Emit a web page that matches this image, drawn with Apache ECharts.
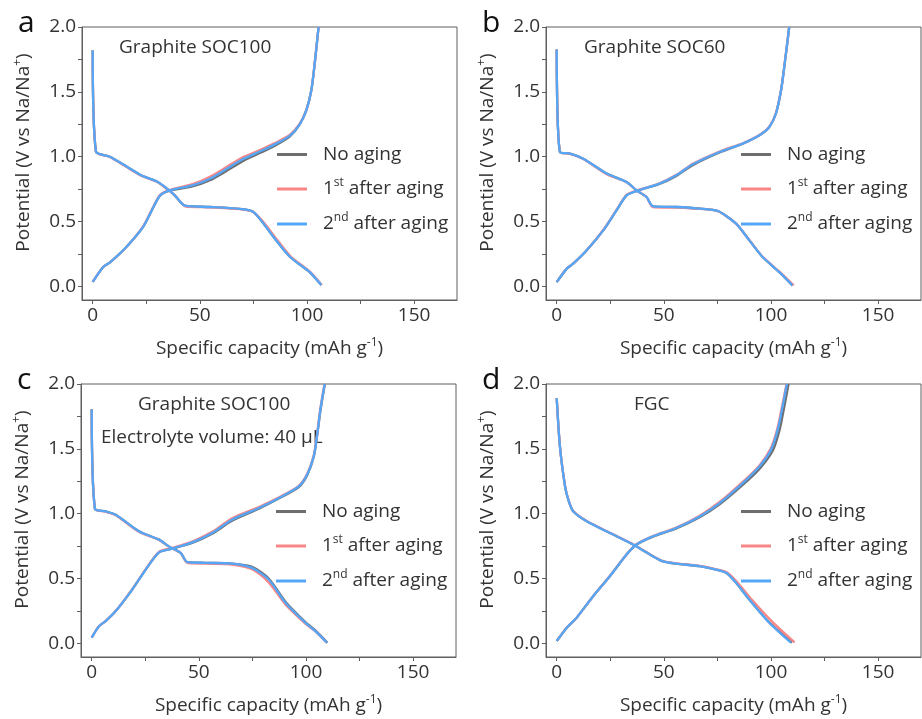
<!DOCTYPE html>
<html>
<head>
<meta charset="utf-8">
<script src="https://cdn.jsdelivr.net/npm/echarts@6/dist/echarts.min.js"></script>
<style>
  html, body { margin: 0; padding: 0; background: #fff; }
  #chart { width: 922px; height: 719px; }
</style>
</head>
<body>
<div id="chart"></div>
<script>
// legend names, in drawing order (gray under, blue on top)
const seriesNames = ['No aging', '1st after aging', '2nd after aging']
const seriesColors = ['#6e6e6e', '#f88686', '#55a6f6']

const panelLetters = ['a', 'b', 'c', 'd']
const panelNotes = [
  ['Graphite SOC100'],
  ['Graphite SOC60'],
  ['Graphite SOC100', 'Electrolyte volume: 40 µL'],
  ['FGC'],
]

const xTicks = [0, 25, 50, 75, 100, 125, 150]
const xLabels = [0, 50, 100, 150]
const yTicks = [0, 0.25, 0.5, 0.75, 1, 1.25, 1.5, 1.75, 2]
const yLabels = [0, 0.5, 1, 1.5, 2]

// ---- panel a ----
const a0Dis = [[0,1.82],[1.5,1.04],[8,1.0],[15.8,0.925],[22.8,0.855],[29.8,0.81],[34.5,0.755],[38.4,0.70],[41.5,0.64],[43.5,0.62],[54.7,0.612],[68.6,0.597],[74.8,0.576],[79,0.5],[84.2,0.385],[91.9,0.23],[98.1,0.15],[101.3,0.11],[106.7,0.01]]
const a1Dis = [[0,1.82],[1.5,1.04],[8,0.998],[15.8,0.92],[22.8,0.852],[29.8,0.808],[34.5,0.752],[38.4,0.70],[41.5,0.64],[43.5,0.615],[54.7,0.61],[68.6,0.596],[74.8,0.576],[79.5,0.5],[84.8,0.385],[92.4,0.23],[98.6,0.15],[101.6,0.11],[106.9,0.01]]
const a2Dis = [[0,1.82],[1.5,1.04],[8,1.0],[15.8,0.925],[22.8,0.855],[29.8,0.81],[34.5,0.755],[38.4,0.70],[41.5,0.64],[43.5,0.62],[54.7,0.612],[68.6,0.597],[74.8,0.576],[79,0.5],[84.2,0.385],[91.9,0.23],[98.1,0.15],[101.3,0.11],[106.7,0.01]]
const a0Chg = [[0,0.035],[4.9,0.15],[8.1,0.185],[15.8,0.305],[23.6,0.46],[28,0.6],[31.4,0.7],[36,0.738],[46.9,0.772],[54.7,0.818],[62.4,0.89],[70,0.965],[78,1.028],[85,1.085],[91.9,1.155],[96.6,1.25],[99.7,1.36],[102,1.51],[103.6,1.72],[105.4,2.0]]
const a1Chg = [[0,0.035],[4.9,0.15],[8.1,0.185],[15.8,0.305],[23.6,0.465],[28,0.605],[31.4,0.705],[36,0.745],[46.9,0.79],[54.7,0.845],[62.4,0.92],[70,0.995],[78,1.052],[85,1.105],[91.9,1.168],[96.6,1.255],[99.7,1.36],[102,1.51],[103.6,1.72],[105.4,2.0]]
const a2Chg = [[0,0.035],[4.9,0.15],[8.1,0.185],[15.8,0.305],[23.6,0.46],[28,0.6],[31.4,0.7],[36,0.74],[46.9,0.78],[54.7,0.83],[62.4,0.905],[70,0.98],[78,1.04],[85,1.095],[91.9,1.16],[96.6,1.25],[99.7,1.36],[102,1.51],[103.6,1.72],[105.4,2.0]]

// ---- panel b ----
const b0Dis = [[0,1.826],[1.5,1.036],[6.2,1.024],[12.4,0.985],[23.3,0.87],[32.6,0.805],[37.2,0.741],[41.9,0.689],[44.9,0.617],[55.8,0.612],[66.7,0.6],[75.2,0.581],[83.7,0.484],[89.9,0.355],[96.1,0.226],[103.9,0.11],[110,0.008]]
const b1Dis = [[0,1.826],[1.5,1.036],[6.2,1.022],[12.4,0.982],[23.3,0.865],[32.6,0.803],[37.2,0.741],[41.9,0.689],[44.9,0.612],[55.8,0.607],[66.7,0.597],[75.2,0.58],[83.7,0.484],[89.9,0.357],[96.1,0.228],[104.2,0.11],[110.6,0.008]]
const b2Dis = [[0,1.826],[1.5,1.036],[6.2,1.024],[12.4,0.985],[23.3,0.87],[32.6,0.805],[37.2,0.741],[41.9,0.689],[44.9,0.617],[55.8,0.612],[66.7,0.6],[75.2,0.581],[83.7,0.484],[89.9,0.355],[96.1,0.226],[103.9,0.11],[110,0.008]]
const b0Chg = [[0,0.033],[4.7,0.137],[7.7,0.175],[14,0.278],[21.7,0.432],[27.9,0.586],[32.6,0.702],[37.2,0.735],[48,0.79],[55.8,0.852],[63.5,0.935],[76,1.032],[86.8,1.1],[94.6,1.165],[99.2,1.229],[102.3,1.333],[104.7,1.512],[106.2,1.692],[108.5,2.0]]
const b1Chg = [[0,0.033],[4.7,0.137],[7.7,0.175],[14,0.278],[21.7,0.435],[27.9,0.59],[32.6,0.705],[37.2,0.738],[48,0.795],[55.8,0.86],[63.5,0.945],[76,1.04],[86.8,1.103],[94.6,1.167],[99.2,1.232],[102.3,1.336],[104.7,1.515],[106.2,1.695],[108.5,2.0]]
const b2Chg = [[0,0.033],[4.7,0.137],[7.7,0.175],[14,0.278],[21.7,0.432],[27.9,0.586],[32.6,0.702],[37.2,0.735],[48,0.792],[55.8,0.856],[63.5,0.941],[76,1.036],[86.8,1.101],[94.6,1.165],[99.2,1.229],[102.3,1.333],[104.7,1.512],[106.2,1.692],[108.5,2.0]]

// ---- panel c ----
const c0Dis = [[0,1.805],[1.5,1.038],[6.5,1.018],[11.2,0.992],[22,0.864],[31.4,0.8],[36,0.748],[41.5,0.698],[44.6,0.626],[53.1,0.621],[65.5,0.615],[74.8,0.59],[82.6,0.5],[90.4,0.322],[99.7,0.165],[104.4,0.1],[110,0.005]]
const c1Dis = [[0,1.805],[1.5,1.038],[6.5,1.015],[11.2,0.988],[22,0.86],[31.4,0.798],[36,0.746],[41.5,0.696],[44.6,0.62],[53.1,0.615],[65.5,0.608],[74.8,0.572],[82.6,0.47],[90.4,0.3],[99.7,0.152],[104.4,0.092],[109.6,0.005]]
const c2Dis = [[0,1.805],[1.5,1.038],[6.5,1.018],[11.2,0.992],[22,0.864],[31.4,0.8],[36,0.748],[41.5,0.698],[44.6,0.626],[53.1,0.621],[65.5,0.615],[74.8,0.582],[82.6,0.492],[90.4,0.313],[99.7,0.159],[104.4,0.095],[109.8,0.005]]
const c0Chg = [[0,0.044],[3.4,0.133],[6.5,0.172],[11.2,0.249],[18.9,0.415],[25.2,0.569],[31.4,0.702],[37.6,0.731],[46.9,0.775],[56.2,0.845],[65.5,0.945],[78,1.038],[88.8,1.13],[96.6,1.205],[100.5,1.295],[103.6,1.438],[105.1,1.59],[106.8,1.8],[108.8,2.0]]
const c1Chg = [[0,0.044],[3.4,0.133],[6.5,0.172],[11.2,0.249],[18.9,0.418],[25.2,0.573],[31.4,0.706],[37.6,0.736],[46.9,0.786],[56.2,0.86],[65.5,0.965],[78,1.052],[88.8,1.138],[96.6,1.215],[100.5,1.305],[103.6,1.448],[105.1,1.602],[106.6,1.8],[108.6,2.0]]
const c2Chg = [[0,0.044],[3.4,0.133],[6.5,0.172],[11.2,0.249],[18.9,0.415],[25.2,0.569],[31.4,0.702],[37.6,0.731],[46.9,0.779],[56.2,0.851],[65.5,0.954],[78,1.044],[88.8,1.133],[96.6,1.21],[100.5,1.3],[103.6,1.441],[105.1,1.595],[106.7,1.8],[108.7,2.0]]

// ---- panel d ----
const d0Dis = [[0,1.89],[1.5,1.518],[3.9,1.21],[5.4,1.108],[7.7,1.018],[14,0.941],[24.8,0.851],[35.6,0.762],[44.9,0.672],[49.6,0.633],[55.8,0.615],[66.7,0.595],[74.4,0.569],[79.1,0.544],[83.7,0.467],[89.9,0.338],[99.2,0.162],[109.8,0.005]]
const d1Dis = [[0,1.89],[1.5,1.52],[3.9,1.215],[5.4,1.112],[7.7,1.02],[14,0.943],[24.8,0.853],[35.6,0.764],[44.9,0.674],[49.6,0.635],[55.8,0.617],[66.7,0.597],[74.4,0.571],[79.5,0.546],[84.5,0.467],[91,0.338],[100.5,0.168],[111,0.008]]
const d2Dis = [[0,1.89],[1.5,1.518],[3.9,1.21],[5.4,1.108],[7.7,1.018],[14,0.941],[24.8,0.851],[35.6,0.762],[44.9,0.672],[49.6,0.633],[55.8,0.615],[66.7,0.595],[74.4,0.569],[79.1,0.544],[83.7,0.467],[89.9,0.338],[99.2,0.159],[109.3,0.005]]
const d0Chg = [[0,0.018],[4.7,0.121],[9.3,0.198],[17,0.364],[24.8,0.518],[32.6,0.685],[37.2,0.76],[44.9,0.822],[55.8,0.886],[66.7,0.972],[76,1.072],[86.8,1.222],[94.6,1.345],[100.8,1.485],[104,1.646],[106.2,1.825],[108.2,2.0]]
const d1Chg = [[0,0.018],[4.7,0.121],[9.3,0.198],[17,0.364],[24.8,0.52],[32.6,0.688],[37.2,0.765],[44.9,0.828],[55.8,0.893],[66.7,0.985],[76,1.09],[86.8,1.245],[94.6,1.372],[99.8,1.5],[102.9,1.652],[105.2,1.83],[107.2,2.0]]
const d2Chg = [[0,0.018],[4.7,0.121],[9.3,0.198],[17,0.364],[24.8,0.518],[32.6,0.685],[37.2,0.762],[44.9,0.825],[55.8,0.89],[66.7,0.979],[76,1.082],[86.8,1.236],[94.6,1.364],[100,1.492],[103.1,1.646],[105.4,1.825],[107.4,2.0]]

const panelCurves = [
  [[a0Dis, a0Chg], [a1Dis, a1Chg], [a2Dis, a2Chg]],
  [[b0Dis, b0Chg], [b1Dis, b1Chg], [b2Dis, b2Chg]],
  [[c0Dis, c0Chg], [c1Dis, c1Chg], [c2Dis, c2Chg]],
  [[d0Dis, d0Chg], [d1Dis, d1Chg], [d2Dis, d2Chg]],
]

const FONT = "'Open Sans', 'Noto Sans', sans-serif"
const TXT = '#333'
const AX = '#5f5f5f'

// panel boxes [left, top]
const boxes = [[82, 27], [546, 27], [81, 384], [546, 384]]
const BOX_W = 375
const BOX_H = 273

const supRich = {
  n: { fontFamily: FONT, fontSize: 19, color: TXT, lineHeight: 24 },
  s: { fontFamily: FONT, fontSize: 12, color: TXT, lineHeight: 24, verticalAlign: 'top', padding: [0, 0, 10, 0] },
}

const chart = echarts.init(document.getElementById('chart'), null, { renderer: 'canvas' })

const grid = []
const xAxis = []
const yAxis = []
const series = []
const legend = []
const graphic = []

boxes.forEach(([left, top], i) => {
  grid.push({
    left, top, width: BOX_W, height: BOX_H,
    show: true, borderColor: AX, borderWidth: 1, backgroundColor: 'transparent',
  })
  xAxis.push({
    gridIndex: i, type: 'value', min: -5, max: 170,
    name: '{n|Specific capacity (mAh g}{s|-1}{n|)}',
    nameLocation: 'middle', nameGap: 37,
    nameTextStyle: { rich: supRich },
    axisLine: { show: true, onZero: false, lineStyle: { color: AX, width: 1 } },
    axisTick: { show: true, customValues: xTicks, length: 4, lineStyle: { color: AX } },
    axisLabel: {
      customValues: xLabels, margin: 6,
      fontFamily: FONT, fontSize: 19, color: TXT,
    },
    splitLine: { show: false },
  })
  yAxis.push({
    gridIndex: i, type: 'value', min: -0.105, max: 2.0,
    name: '{n|Potential (V vs Na/Na}{s|+}{n|)}',
    nameLocation: 'middle', nameGap: 46,
    nameTextStyle: { rich: supRich, padding: [0, 0, 0, 22] },
    axisLine: { show: true, onZero: false, lineStyle: { color: AX, width: 1 } },
    axisTick: { show: true, customValues: yTicks, length: 4, lineStyle: { color: AX } },
    axisLabel: {
      customValues: yLabels, margin: 6,
      fontFamily: FONT, fontSize: 19, color: TXT,
      formatter: (v) => v.toFixed(1),
    },
    splitLine: { show: false },
  })

  panelCurves[i].forEach((curves, k) => {
    curves.forEach((pts) => {
      series.push({
        name: seriesNames[k], type: 'line',
        xAxisIndex: i, yAxisIndex: i,
        data: pts, showSymbol: false, symbol: 'none',
        smooth: 0.25, clip: true,
        lineStyle: { color: seriesColors[k], width: 2.3 },
        itemStyle: { color: seriesColors[k] },
        z: 2 + k,
      })
    })
  })

  legend.push({
    orient: 'vertical',
    left: left + 190, top: top + 113,
    data: seriesNames, icon: 'rect', itemWidth: 30, itemHeight: 3,
    itemGap: 13, selectedMode: false,
    textStyle: {
      padding: [0, 0, 0, 11],
      rich: supRich,
    },
    formatter: (name) => {
      if (name === '1st after aging') return '{n|1}{s|st}{n| after aging}'
      if (name === '2nd after aging') return '{n|2}{s|nd}{n| after aging}'
      return '{n|' + name + '}'
    },
  })

  graphic.push({
    type: 'text', left: left - 64, top: top - 19,
    style: { text: panelLetters[i], font: '30px ' + FONT, fill: '#111' },
  })
})

// annotation texts
const notePos = [[[119, 48]], [[584, 48]], [[138, 405], [101, 438]], [[634, 405]]]
panelNotes.forEach((lines, i) => {
  lines.forEach((t, j) => {
    graphic.push({
      type: 'text', x: notePos[i][j][0], y: notePos[i][j][1],
      style: { text: t, font: '19px ' + FONT, fill: TXT, verticalAlign: 'middle', align: 'left' },
    })
  })
})

chart.setOption({
  animation: false,
  backgroundColor: '#fff',
  grid, xAxis, yAxis, series, legend, graphic,
})
</script>
</body>
</html>
